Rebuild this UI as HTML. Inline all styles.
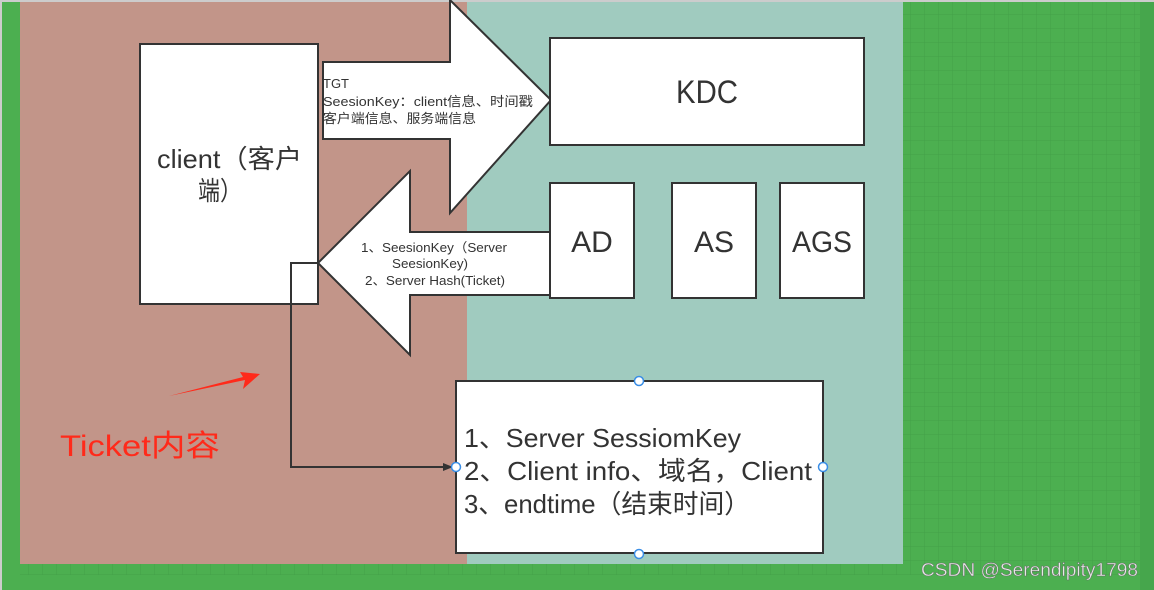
<!DOCTYPE html>
<html><head><meta charset="utf-8"><style>
html,body{margin:0;padding:0;width:1154px;height:590px;overflow:hidden;background:#49aa4f}
svg{display:block}
text{font-family:"Liberation Sans","Noto Sans CJK SC",sans-serif;fill:#333}
</style></head><body>
<svg width="1154" height="590" viewBox="0 0 1154 590">
<defs>
<pattern id="g" width="14" height="14" patternUnits="userSpaceOnUse">
<path d="M0 0H14M0 0V14" stroke="#43a049" stroke-width="1" fill="none"/>
</pattern>
<marker id="ah" markerWidth="10" markerHeight="8" refX="9" refY="4" orient="auto" markerUnits="userSpaceOnUse">
<path d="M0,0 L10,4 L0,8 z" fill="#333"/>
</marker>
</defs>
<rect width="1154" height="590" fill="#4caf50"/>
<rect x="20" y="0" width="1120" height="575" fill="url(#g)"/>
<rect x="1140" y="0" width="14" height="590" fill="#46a64c"/>
<rect x="0" y="0" width="2" height="590" fill="#ccc"/>
<rect x="0" y="0" width="1154" height="2" fill="#ccc"/>
<rect x="20" y="2" width="447" height="562" fill="#c29589"/>
<rect x="467" y="2" width="436" height="562" fill="#a0cbbf"/>
<!-- client -->
<rect x="140" y="44" width="178" height="260" fill="#fff" stroke="#333" stroke-width="2"/>
<text x="157" y="168" font-size="26" textLength="145" lengthAdjust="spacingAndGlyphs">client（客户</text>
<text x="198" y="200" font-size="26" textLength="44" lengthAdjust="spacingAndGlyphs">端）</text>
<!-- right arrow -->
<polygon points="323,62 450,62 450,0 551,100 450,213 450,139 323,139" fill="#fff" stroke="#333" stroke-width="2"/>
<text x="323" y="88" font-size="13">TGT</text>
<text x="323" y="106" font-size="13" textLength="210" lengthAdjust="spacingAndGlyphs">SeesionKey：client信息、时间戳</text>
<text x="323" y="123" font-size="13" textLength="153" lengthAdjust="spacingAndGlyphs">客户端信息、服务端信息</text>
<!-- left arrow -->
<polygon points="551,232 410,232 410,171 318,263 410,355 410,295 551,295" fill="#fff" stroke="#333" stroke-width="2"/>
<text x="361" y="252" font-size="13" textLength="146" lengthAdjust="spacingAndGlyphs">1、SeesionKey（Server</text>
<text x="392" y="268" font-size="13" textLength="76" lengthAdjust="spacingAndGlyphs">SeesionKey)</text>
<text x="365" y="285" font-size="13" textLength="140" lengthAdjust="spacingAndGlyphs">2、Server Hash(Ticket)</text>
<!-- KDC etc -->
<rect x="550" y="38" width="314" height="107" fill="#fff" stroke="#333" stroke-width="2"/>
<text x="676" y="103" font-size="32" textLength="62" lengthAdjust="spacingAndGlyphs">KDC</text>
<rect x="550" y="183" width="84" height="115" fill="#fff" stroke="#333" stroke-width="2"/>
<text x="592" y="252" font-size="30" text-anchor="middle">AD</text>
<rect x="672" y="183" width="84" height="115" fill="#fff" stroke="#333" stroke-width="2"/>
<text x="714" y="252" font-size="30" text-anchor="middle">AS</text>
<rect x="780" y="183" width="84" height="115" fill="#fff" stroke="#333" stroke-width="2"/>
<text x="822" y="252" font-size="30" text-anchor="middle" textLength="60" lengthAdjust="spacingAndGlyphs">AGS</text>
<!-- connector -->
<polyline points="318,263 291,263 291,467 452,467" fill="none" stroke="#333" stroke-width="2" marker-end="url(#ah)"/>
<!-- bottom box -->
<rect x="456" y="381" width="367" height="172" fill="#fff" stroke="#333" stroke-width="2"/>
<text x="464" y="447" font-size="26" textLength="277" lengthAdjust="spacingAndGlyphs">1、Server SessiomKey</text>
<text x="464" y="480" font-size="26" textLength="348" lengthAdjust="spacingAndGlyphs">2、Client info、域名，Client</text>
<text x="464" y="513" font-size="26" textLength="286" lengthAdjust="spacingAndGlyphs">3、endtime（结束时间）</text>
<g fill="#fff" stroke="#3a8ee6" stroke-width="1.5">
<circle cx="639" cy="381" r="4.5"/><circle cx="639" cy="554" r="4.5"/>
<circle cx="456" cy="467" r="4.5"/><circle cx="823" cy="467" r="4.5"/>
</g>
<!-- red annotation -->
<polygon points="169,396 245,380 243,389 260,374 240,372 243,377" fill="#ff2a1a"/>
<text x="60" y="456" font-size="30" style="fill:#ff2a1a" textLength="160" lengthAdjust="spacingAndGlyphs">Ticket内容</text>
<text x="921" y="576" font-size="18" textLength="217" lengthAdjust="spacingAndGlyphs" style="fill:#e8e8e8;stroke:#666;stroke-width:0.4">CSDN @Serendipity1798</text>
</svg>
</body></html>
